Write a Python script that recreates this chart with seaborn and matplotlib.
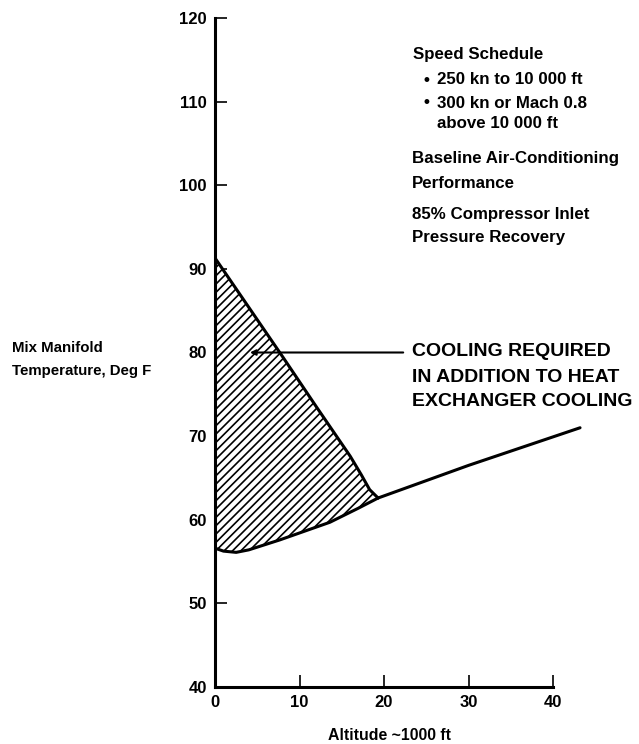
import matplotlib
matplotlib.use("Agg")
import matplotlib.pyplot as plt
import seaborn as sns
import numpy as np

# values
upper_x = [0, 4, 8, 12, 16, 17.3, 18.3, 19.3]
upper_y = [91.3, 85.4, 79.5, 73.5, 67.6, 65.4, 63.6, 62.6]
lower_x = [0, 1, 2.5, 4, 7.7, 13.6, 17, 19.3]
lower_y = [56.6, 56.25, 56.1, 56.4, 57.6, 59.7, 61.4, 62.6]
trend_x = [19.3, 30, 43.2]
trend_y = [62.6, 66.5, 71.0]

x_ticks = [0, 10, 20, 30, 40]
y_ticks = [40, 50, 60, 70, 80, 90, 100, 110, 120]

sns.set_style("ticks")
plt.rcParams['font.family'] = ['Liberation Sans', 'DejaVu Sans']
plt.rcParams['hatch.linewidth'] = 1.2

W, H = 639, 744
fig = plt.figure(figsize=(W / 100, H / 100), dpi=100)
ax = fig.add_axes([215 / W, 1 - 687 / H, (553 - 215) / W, (687 - 18) / H])

# hatched region between the two curves
poly_x = upper_x + lower_x[::-1]
poly_y = upper_y + lower_y[::-1]
ax.fill(poly_x, poly_y, facecolor='white', edgecolor='black', hatch='////', lw=0)

sns.lineplot(x=upper_x, y=upper_y, sort=False, estimator=None, color='black', lw=2.2, ax=ax)
sns.lineplot(x=lower_x, y=lower_y, sort=False, estimator=None, color='black', lw=2.2, ax=ax)
sns.lineplot(x=trend_x, y=trend_y, sort=False, estimator=None, color='black', lw=2.2, ax=ax,
             clip_on=False)

ax.set_xlim(0, 40)
ax.set_ylim(40, 120)
ax.set_xticks(x_ticks)
ax.set_yticks(y_ticks)
ax.tick_params(direction='in', length=8.5, width=1.2, labelsize=12, pad=6,
               color='black', labelcolor='black')
for lab in ax.get_xticklabels() + ax.get_yticklabels():
    lab.set_fontweight('bold')
sns.despine(ax=ax)
for s in ['left', 'bottom']:
    ax.spines[s].set_linewidth(2.2)
    ax.spines[s].set_color('black')

# leader line to note
ax.annotate('', xy=(3.8, 80), xytext=(22.6, 80),
            arrowprops=dict(arrowstyle='-|>', lw=1.5, color='black', mutation_scale=8))

def ftext(px, py, s, size, ha='left'):
    fig.text(px / W, 1 - py / H, s, va='center', ha=ha, fontsize=size,
             fontweight='bold', color='black')

ftext(412, 352, 'COOLING REQUIRED', 14)
ftext(412, 377, 'IN ADDITION TO HEAT', 14)
ftext(412, 402, 'EXCHANGER COOLING', 14)

ftext(12, 348, 'Mix Manifold', 10.8)
ftext(12, 371, 'Temperature, Deg F', 10.8)
ftext(389, 735, 'Altitude ~1000 ft', 11.4, ha='center')

ftext(413, 55, 'Speed Schedule', 12.2)
ftext(423, 80, '\u2022', 12.2)
ftext(437, 80, '250 kn to 10 000 ft', 12.2)
ftext(423, 103, '\u2022', 12.2)
ftext(437, 103, '300 kn or Mach 0.8', 12.2)
ftext(437, 123, 'above 10 000 ft', 12.2)
ftext(412, 158, 'Baseline Air-Conditioning', 12.2)
ftext(412, 183, 'Performance', 12.2)
ftext(412, 215, '85% Compressor Inlet', 12.2)
ftext(412, 238, 'Pressure Recovery', 12.2)

fig.savefig('out.png', dpi=100)
